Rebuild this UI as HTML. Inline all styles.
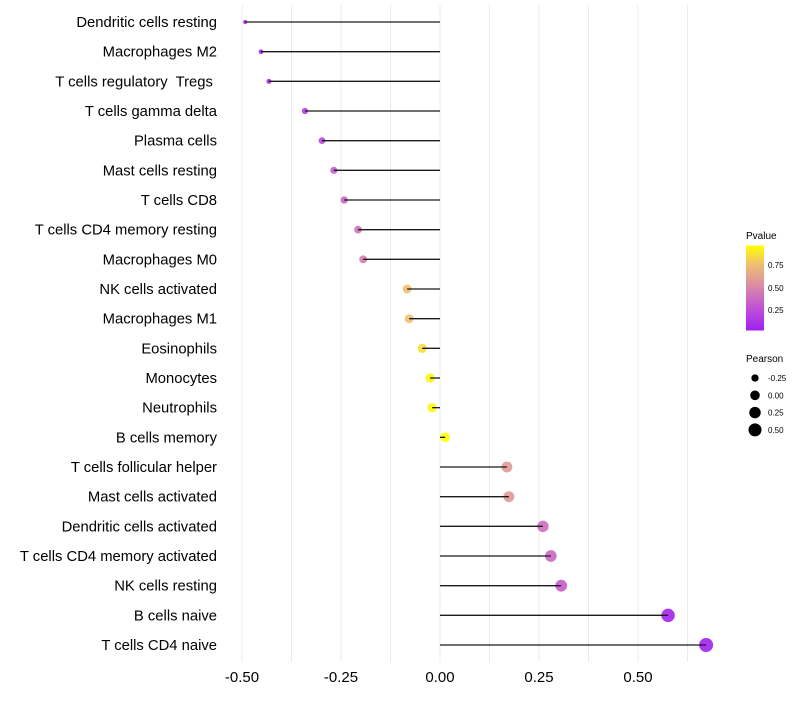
<!DOCTYPE html>
<html><head><meta charset="utf-8"><style>
body{margin:0;background:#fff;font-family:"Liberation Sans",sans-serif}
text{white-space:pre}
</style></head><body>
<svg id="chart" width="800" height="700" xmlns="http://www.w3.org/2000/svg">
<defs><linearGradient id="pg" x1="0" y1="1" x2="0" y2="0">
<stop offset="0" stop-color="#a020f0"/><stop offset="0.26" stop-color="#c050d8"/><stop offset="0.52" stop-color="#d98aa8"/><stop offset="0.78" stop-color="#efc070"/><stop offset="1" stop-color="#ffff00"/>
</linearGradient></defs>
<g id="grid"></g>
<g id="dots"></g>
<g id="marks"></g>
<g id="ylab"></g>
<g id="xlab"></g>
<g>
<text x="746" y="239" font-size="10">Pvalue</text>
<rect x="746" y="245.5" width="18" height="85" fill="url(#pg)"/>
<text x="768" y="268" font-size="8">0.75</text>
<text x="768" y="291" font-size="8">0.50</text>
<text x="768" y="313" font-size="8">0.25</text>
</g>
<g id="sizeleg">
<text x="746" y="362" font-size="10">Pearson</text>
</g>
</svg>
<script>
const categories=["Dendritic cells resting","Macrophages M2","T cells regulatory  Tregs ","T cells gamma delta","Plasma cells","Mast cells resting","T cells CD8","T cells CD4 memory resting","Macrophages M0","NK cells activated","Macrophages M1","Eosinophils","Monocytes","Neutrophils","B cells memory","T cells follicular helper","Mast cells activated","Dendritic cells activated","T cells CD4 memory activated","NK cells resting","B cells naive","T cells CD4 naive"];
const pearson=[-0.492,-0.452,-0.432,-0.341,-0.298,-0.268,-0.242,-0.207,-0.194,-0.083,-0.078,-0.045,-0.025,-0.02,0.013,0.169,0.174,0.26,0.28,0.306,0.576,0.672];
const pvalue=[0.01,0.03,0.04,0.15,0.2,0.3,0.35,0.4,0.45,0.75,0.75,0.85,0.93,0.93,0.96,0.58,0.57,0.38,0.35,0.3,0.02,0.01];
const xTicks=[-0.5,-0.25,0,0.25,0.5];
const xTickLabels=["-0.50","-0.25","0.00","0.25","0.50"];
const sizeLegend=[-0.25,0,0.25,0.5];
const sizeLegendLabels=["-0.25","0.00","0.25","0.50"];
const NS="http://www.w3.org/2000/svg";
const x=v=>440+v*396;
const y=i=>22+i*(623/21);
const r=v=>Math.sqrt(Math.max(1,4+38.8*(v+0.49)));
const stops=[[0,[160,32,240]],[0.25,[192,80,216]],[0.5,[217,138,168]],[0.75,[239,192,112]],[0.96,[255,255,0]]];
function col(p){for(let k=1;k<stops.length;k++){if(p<=stops[k][0]||k==stops.length-1){const a=stops[k-1],b=stops[k];let t=(p-a[0])/(b[0]-a[0]);t=Math.max(0,Math.min(1,t));return`rgb(${a[1].map((c,j)=>Math.round(c+(b[1][j]-c)*t)).join(",")})`;}}}
function mk(tag,at,parent){const e=document.createElementNS(NS,tag);for(const k in at)e.setAttribute(k,at[k]);document.getElementById(parent).appendChild(e);return e;}
for(let v=-0.5;v<=0.626;v+=0.125){const g=mk("line",{x1:x(v),x2:x(v),y1:5,y2:662,stroke:"#ebebeb","stroke-width":1},"grid");

}
xTicks.forEach((v,i)=>{const t=mk("text",{x:x(v),y:682,"font-size":15,"text-anchor":"middle"},"xlab");t.textContent=xTickLabels[i];

});
categories.forEach((c,i)=>{const t=mk("text",{x:217,y:y(i)+5,"font-size":14.8,"text-anchor":"end"},"ylab");t.textContent=c;


const l=mk("line",{x1:x(0),x2:x(pearson[i]),y1:y(i),y2:y(i),stroke:"#1a1a1a","stroke-width":1.3},"marks");


const d=mk("circle",{cx:x(pearson[i]),cy:y(i),r:r(pearson[i]),fill:col(pvalue[i]),"fill-opacity":0.9},"dots");

});
sizeLegend.forEach((v,i)=>{const cy=378+i*17.3;const d=mk("circle",{cx:755,cy:cy,r:r(v)},"sizeleg");


const t=mk("text",{x:768,y:cy+3,"font-size":8},"sizeleg");t.textContent=sizeLegendLabels[i];

});
</script>
</body></html>
